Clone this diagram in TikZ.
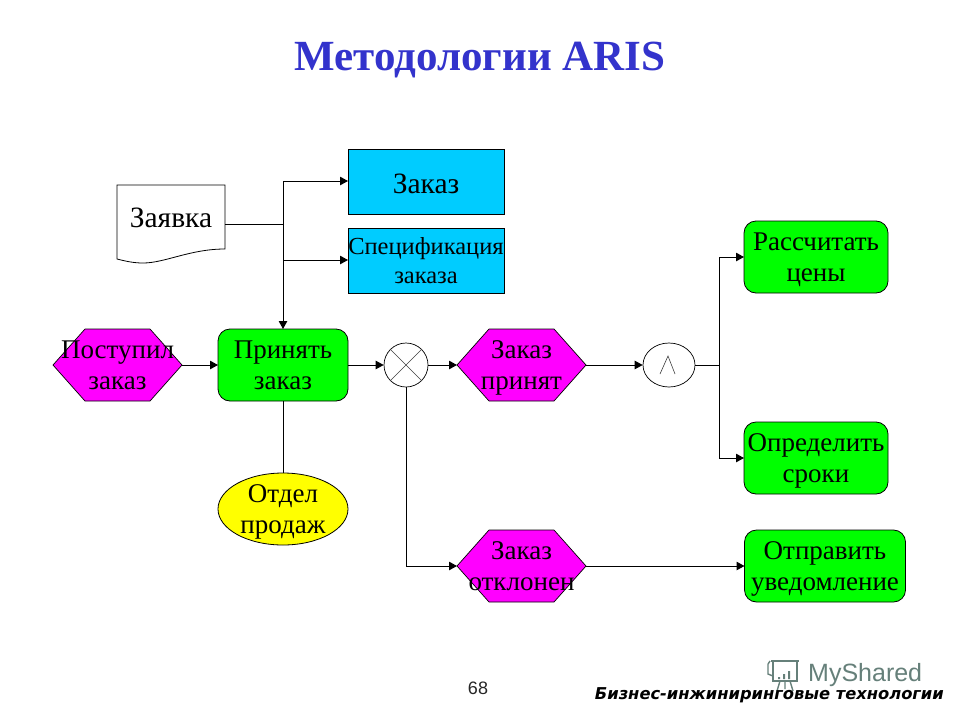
\documentclass[tikz,border=0pt]{standalone}
\usepackage{fontspec}
\setmainfont{Liberation Serif}
\newfontfamily\footfont{DejaVu Sans}
\newfontfamily\numfont{Liberation Sans}
\usetikzlibrary{arrows.meta,shapes.geometric}
\definecolor{magentafill}{HTML}{FF00FF}
\definecolor{greenfill}{HTML}{00FF00}
\definecolor{bluefill}{HTML}{00CCFF}
\definecolor{yellowfill}{HTML}{FFFF00}
\definecolor{titleblue}{HTML}{3333CC}
\definecolor{wmgray}{HTML}{66807A}
\newcommand{\lbline}[1]{\raisebox{-3pt}[18pt][6pt]{#1}}
\tikzset{
  x=1pt,y=-1pt,
  lbl/.style={align=center,font=\fontsize{27}{31.5}\selectfont,inner sep=0pt,outer sep=0pt,text=black},
  lowered/.style={font=\fontsize{29.5}{32}\selectfont,execute at begin node={\rule{0pt}{24pt}}},
  boxblue/.style={lbl,draw=black,line width=0.9pt,fill=bluefill,minimum width=156pt,minimum height=65pt},
  func/.style={lbl,draw=black,line width=0.8pt,fill=greenfill,rounded corners=12pt,minimum height=72pt},
  hexnode/.style={lbl,minimum width=129pt,minimum height=72pt},
  hexfill/.style={fill=magentafill,draw=black,line width=0.7pt},
  orgunit/.style={ellipse,draw=black,line width=0.8pt,fill=yellowfill,inner sep=0pt,outer sep=0pt,minimum width=130pt,minimum height=72pt},
  gate/.style={ellipse,draw=black,line width=0.7pt,fill=white,inner sep=0pt},
  conn/.style={draw=black,line width=1pt},
  arr/.style={conn,-{Triangle[length=8pt,width=8.5pt]}},
  thinstroke/.style={draw=black!75,line width=0.6pt},
}
\newcommand{\hexshape}[4]{%
  \path[hexfill] (#2-64.5,#3) -- (#2-32.5,#3-36) -- (#2+32.5,#3-36) -- (#2+64.5,#3) -- (#2+32.5,#3+36) -- (#2-32.5,#3+36) -- cycle;
  \node[hexnode] (#1) at (#2,#3) {#4};
}
\begin{document}
\begin{tikzpicture}
\useasboundingbox (0,0) rectangle (960,720);
\fill[white] (0,0) rectangle (960,720);

% title
\node[inner sep=0pt,font=\fontsize{43}{45}\selectfont\bfseries,text=titleblue] (title) at (480,60) {Методологии ARIS};

% document
\path[draw=black,line width=0.8pt,fill=white] (117,185) -- (225,185) -- (225,249)
  .. controls (190,249) and (165,263) .. (143,263)
  .. controls (133,263) and (125,261) .. (117,259) -- cycle;
\node[lbl,lowered,minimum width=108pt,minimum height=66pt] (zayavka) at (171,216) {Заявка};

% boxes
\node[boxblue,lowered] (zakaz) at (426,181.5) {Заказ};
\node[boxblue,font=\fontsize{24.5}{29}\selectfont] (spec) at (426,260.5) {Спецификация\\заказа};
\node[func,minimum width=130pt] (prinyat) at (283,365) {\lbline{Принять}\\\lbline{заказ}};
\node[func,minimum width=144pt] (rasschet) at (816,257) {\lbline{Рассчитать}\\\lbline{цены}};
\node[func,minimum width=144pt] (opredel) at (816,458) {\lbline{Определить}\\\lbline{сроки}};
\node[func,minimum width=161pt] (otpravit) at (825,566) {\lbline{Отправить}\\\lbline{уведомление}};
\node[orgunit] (otdel) at (283,509) {};
\node[lbl] (otdeltext) at (otdel.center) {\lbline{Отдел}\\\lbline{продаж}};

% events
\hexshape{postupil}{117.5}{365}{\lbline{Поступил}\\\lbline{заказ}}
\hexshape{prinyato}{521.5}{365}{\lbline{Заказ}\\\lbline{принят}}
\hexshape{otklon}{521.5}{566}{\lbline{Заказ}\\\lbline{отклонен}}

% gates
\node[gate,minimum width=44pt,minimum height=44pt] (xorg) at (406,365) {};
\draw[thinstroke] (xorg.north west) -- (xorg.south east) (xorg.north east) -- (xorg.south west);
\node[gate,minimum width=52pt,minimum height=44pt] (andg) at (669,365) {};
\coordinate (andtop) at (668,356);
\draw[thinstroke] ([shift={(-8,18)}]andtop) -- (andtop) -- ([shift={(7,18)}]andtop);

% junctions
\coordinate (jdoc) at (283,224);
\coordinate (jzak) at (283,181);
\coordinate (jspec) at (283,260);
\coordinate (jand) at (719,365);

% connectors
\draw[conn] (zayavka.east |- jdoc) -- (jdoc);
\draw[arr] (jzak) -- (zakaz.west |- jzak);
\draw[arr] (jspec) -- (spec.west |- jspec);
\draw[arr] (jzak) -- (prinyat.north);
\draw[arr] (postupil.east) -- (prinyat.west);
\draw[arr] (prinyat.east) -- (xorg.west);
\draw[arr] (xorg.east) -- (prinyato.west);
\draw[arr] (prinyato.east) -- (andg.west);
\draw[conn] (andg.east) -- (jand);
\draw[arr] (jand) |- (rasschet.west);
\draw[arr] (jand) |- (opredel.west);
\draw[conn] (prinyat.south) -- (otdel.north);
\draw[arr] (xorg.south) |- (otklon.west);
\draw[arr] (otklon.east) -- (otpravit.west);

% footer
\node[inner sep=0pt,font=\numfont\fontsize{18}{20}\selectfont,text=black!85] (pagenum) at (478,688) {68};

% watermark
\begin{scope}[wmgray,line width=1.4pt]
  \draw (771,661) -- (799,661) (773,661) -- (773,681) -- (797,681) -- (797,661);
  \draw (768,664) -- (770,661) (768,664) -- (768,674) -- (773,676);
  \draw (780,681) -- (777,691) (790,681) -- (793,691) (785,681) -- (785,689);
  \fill (778,677) rectangle (780,679) (783,674) rectangle (785,679) (788,671) rectangle (790,679);
\end{scope}
\node[inner sep=0pt,anchor=west,font=\numfont\fontsize{25}{27}\selectfont,text=wmgray] (wm) at (808,675) {MyShared};
\node[inner sep=0pt,anchor=east,font=\footfont\fontsize{16.3}{18}\selectfont\bfseries\itshape,text=black] (footer) at (944,695) {Бизнес-инжиниринговые технологии};
\end{tikzpicture}
\end{document}
